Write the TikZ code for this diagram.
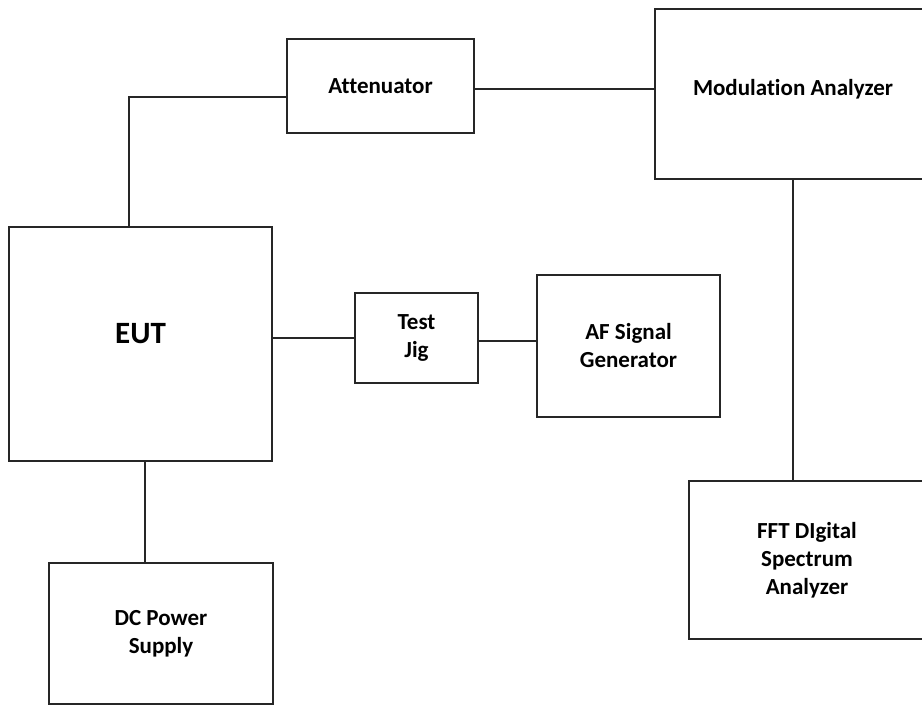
\documentclass[tikz,border=0pt]{standalone}
\usepackage{fontspec}
\setmainfont[Ligatures=NoCommon]{Carlito}
\begin{document}
\begin{tikzpicture}[x=1pt, y=-1pt,
        blk/.style={rectangle, draw=black!85, line width=2.4pt, inner sep=0pt, align=center,
            font=\fontsize{23}{28}\selectfont\bfseries},
        wire/.style={draw=black!85, line width=2.4pt}]
        \useasboundingbox (0, 0) rectangle (922, 705);
        \clip (0, 0) rectangle (922, 705);

        % Nodes
        \node[blk, minimum width=187pt, minimum height=94pt] at (380.5, 86) (att) {Attenuator};
        \node[blk, minimum width=276pt, minimum height=170pt, text height=16pt, text depth=14pt] at (793, 94) (mod) {Modulation Analyzer};
        \node[blk, minimum width=263pt, minimum height=234pt, text height=20pt, text depth=22pt,
            font=\fontsize{31}{36}\selectfont\bfseries] at (140.5, 344) (eut) {EUT};
        \node[blk, minimum width=123pt, minimum height=90pt] at (416.5, 338) (tj) {Test\\Jig};
        \node[blk, minimum width=183pt, minimum height=142pt] at (628.5, 346) (af) {AF Signal\\Generator};
        \node[blk, minimum width=236pt, minimum height=158pt] at (807, 560) (fft) {FFT DIgital\\Spectrum\\Analyzer};
        \node[blk, minimum width=224pt, minimum height=141pt] at (161, 633.5) (dc) {DC Power\\Supply};

        % Connections
        \draw[wire] ([xshift=-11.5pt]eut.north) |- ([yshift=-11pt]att.west);
        \draw[wire] ([yshift=-3pt]att.east) -- ([yshift=-3pt]att.east -| mod.west);
        \draw[wire] (mod.south) -- (mod.south |- fft.north);
        \draw[wire] (tj.west -| eut.east) -- (tj.west);
        \draw[wire] ([yshift=-3pt]tj.east) -- ([yshift=-3pt]tj.east -| af.west);
        \draw[wire] ([xshift=4.5pt]eut.south) -- ([xshift=4.5pt]eut.south |- dc.north);

    \end{tikzpicture}
\end{document}
